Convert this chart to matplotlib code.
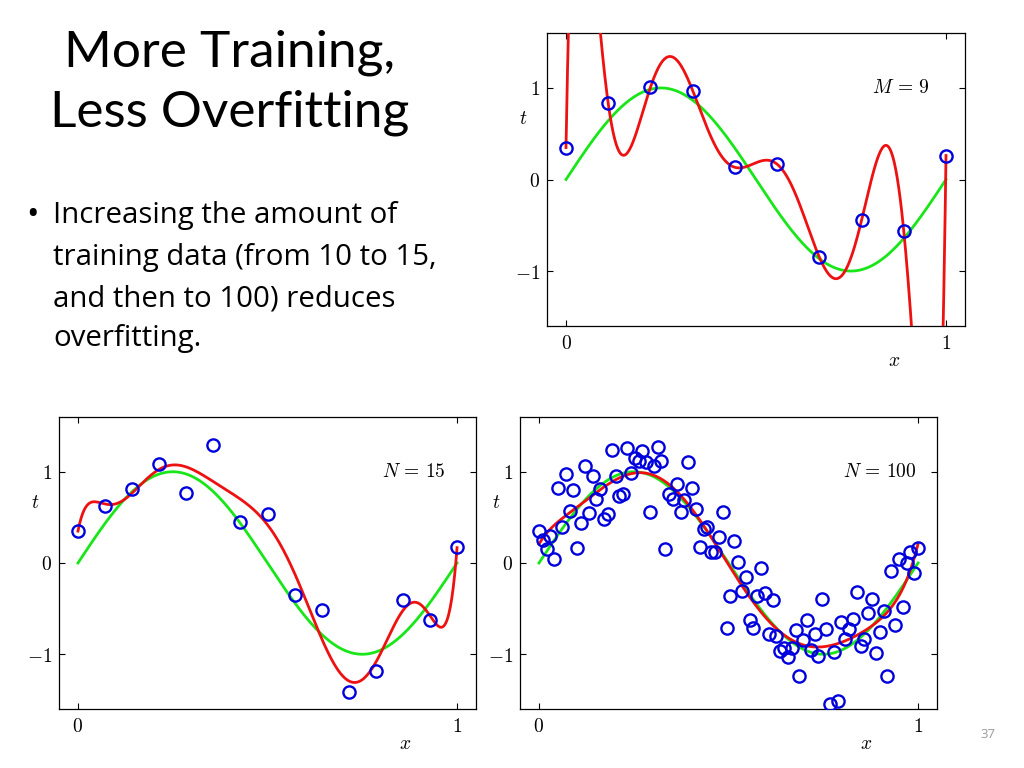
import numpy as np
import matplotlib
matplotlib.use("Agg")
import matplotlib.pyplot as plt

plt.rcParams['mathtext.fontset'] = 'cm'

# ---------------- data ----------------
x10 = np.linspace(0, 1, 10)
t10 = [0.349, 0.831, 1.007, 0.972, 0.133, 0.167, -0.848, -0.446, -0.564, 0.262]

x15 = np.linspace(0, 1, 15)
t15 = [0.354, 0.620, 0.807, 1.084, 0.766, 1.292, 0.453, 0.540, -0.354, -0.518,
       -1.409, -1.182, -0.405, -0.624, 0.175]

x100 = np.linspace(0, 1, 100)
t100 = [0.355, 0.253, 0.150, 0.297, 0.040, 0.821, 0.392, 0.978, 0.575, 0.802,
        0.161, 0.436, 1.066, 0.546, 0.956, 0.700, 0.813, 0.480, 0.538, 1.234,
        0.956, 0.736, 0.755, 1.260, 0.985, 1.150, 1.114, 1.223, 1.103, 0.564,
        1.059, 1.271, 1.121, 0.158, 0.755, 0.700, 0.861, 0.564, 0.692, 1.106,
        0.821, 0.593, 0.179, 0.377, 0.392, 0.125, 0.117, 0.282, 0.564, -0.707,
        -0.359, 0.245, 0.015, -0.304, -0.150, -0.626, -0.707, -0.359, -0.059, -0.333,
        -0.773, -0.407, -0.802, -0.963, -0.934, -1.029, -0.927, -0.729, -1.242, -0.839,
        -0.626, -0.949, -0.780, -1.018, -0.396, -0.725, -1.542, -0.974, -1.516, -0.648,
        -0.828, -0.718, -0.619, -0.322, -0.912, -0.828, -0.546, -0.399, -0.982, -0.755,
        -0.524, -1.234, -0.084, -0.681, 0.044, -0.487, 0.004, 0.117, -0.114, 0.168]

poly_order = 9
panel_labels = ['$M\\,=\\,9$', '$N\\,=\\,15$', '$N\\,=\\,100$']
xticks = [0, 1]
yticks = [-1, 0, 1]
xtick_labels = ['$0$', '$1$']
ytick_labels = ['$-1$', '$0$', '$1$']

title_lines = ['More Training,', 'Less Overfitting']
bullet_lines = ['Increasing the amount of',
                'training data (from 10 to 15,',
                'and then to 100) reduces',
                'overfitting.']

GREEN = '#19e619'
RED = '#ee1111'
BLUE = '#0000dd'

fig = plt.figure(figsize=(10.24, 7.68), dpi=100)
W, H = 1024, 768

def make_ax(left, top, right, bottom):
    return fig.add_axes([left / W, 1 - bottom / H, (right - left) / W, (bottom - top) / H])

axes = [make_ax(547, 33, 965, 326), make_ax(59, 417, 476, 709), make_ax(520, 417, 937, 709)]
datasets = [(x10, t10), (x15, t15), (x100, t100)]
label_x = [0.88, 0.885, 0.90]

xs = np.linspace(0, 1, 500)
for ax, (xd, td), lab, lx in zip(axes, datasets, panel_labels, label_x):
    coef = np.polyfit(xd, td, poly_order)
    ax.plot(xs, np.sin(2 * np.pi * xs), color=GREEN, lw=2.0, zorder=2)
    ax.plot(xs, np.polyval(coef, xs), color=RED, lw=2.0, zorder=3)
    ax.plot(xd, td, 'o', mfc='none', mec=BLUE, mew=1.7, ms=8.8, zorder=4)
    ax.set_xlim(-0.05, 1.05)
    ax.set_ylim(-1.6, 1.6)
    ax.set_xticks(xticks)
    ax.set_xticklabels(xtick_labels, fontsize=14)
    ax.set_yticks(yticks)
    ax.set_yticklabels(ytick_labels, fontsize=14)
    ax.tick_params(direction='in', top=True, right=True, length=4, width=0.8)
    ax.tick_params(axis='x', pad=6)
    ax.tick_params(axis='y', pad=5)
    ax.set_xlabel('$x$', fontsize=14)
    ax.xaxis.set_label_coords(0.83, -0.085)
    ax.set_ylabel('$t$', fontsize=14, rotation=0)
    ax.yaxis.set_label_coords(-0.057, 0.675)
    ax.text(lx, 1.0, lab, fontsize=14, ha='center', va='center')
    for s in ax.spines.values():
        s.set_linewidth(0.9)

# ---------------- slide text ----------------
fig.text(230 / W, 1 - 67 / H, title_lines[0], fontsize=37, family='Lato', ha='center', va='baseline')
fig.text(230 / W, 1 - 127 / H, title_lines[1], fontsize=37, family='Lato', ha='center', va='baseline')

fig.text(26 / W, 1 - 224 / H, '\u2022', fontsize=24, family='Open Sans', ha='left', va='baseline')
base = [223, 265, 307, 346]
for line, b in zip(bullet_lines, base):
    fig.text(53 / W, 1 - b / H, line, fontsize=21.2, family='Open Sans', ha='left', va='baseline')

fig.text(988 / W, 1 - 738 / H, '37', fontsize=9.5, family='Open Sans', color='#999999', ha='center', va='baseline')

fig.savefig('out.png', dpi=100)
